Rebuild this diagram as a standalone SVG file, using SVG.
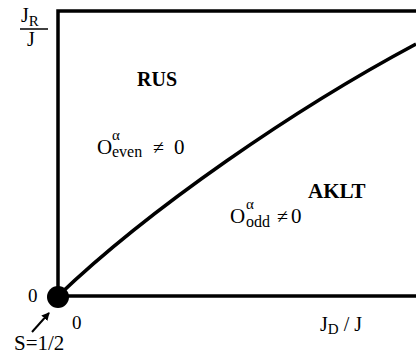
<svg xmlns="http://www.w3.org/2000/svg" width="416" height="358" viewBox="0 0 416 358">
<style>
.t{font-family:"Liberation Serif","Times New Roman",serif;fill:#000}
.b{font-weight:bold}
.ln{stroke:#000;fill:none}
</style>
<defs>
<marker id="ah" markerWidth="8" markerHeight="8" refX="7" refY="4" orient="auto" markerUnits="userSpaceOnUse">
<path d="M0,0 L8,4 L0,8 Z" fill="#000"/>
</marker>
</defs>
<rect width="416" height="358" fill="#fff"/>
<g id="axes">
<path class="ln" d="M58,296 L58,11 L416,11" stroke-width="3.5"/>
<path class="ln" d="M58,296 L416,296" stroke-width="3.5"/>
</g>
<g id="connectors">
<path class="ln" d="M58,296 C150,208 296,108 416,44" stroke-width="3.5"/>
<path class="ln" d="M32,332 L49,313" stroke-width="2" marker-end="url(#ah)"/>
</g>
<g id="origin">
<circle cx="58" cy="297" r="11" fill="#000"/>
</g>
<g id="ylabel">
<text class="t" x="21" y="22" font-size="20">J<tspan font-size="15" dy="4">R</tspan></text>
<line x1="20" y1="29" x2="48" y2="29" stroke="#000" stroke-width="1.5"/>
<text class="t" x="27" y="46" font-size="20">J</text>
</g>
<g id="xlabel">
<text class="t" x="320" y="331" font-size="20">J<tspan font-size="15" dy="3">D</tspan><tspan dy="-3"> / J</tspan></text>
</g>
<g id="rus">
<text class="t b" x="137" y="86" font-size="20">RUS</text>
</g>
<g id="aklt">
<text class="t b" x="308" y="198" font-size="21">AKLT</text>
</g>
<g id="even">
<text class="t" x="97" y="154" font-size="21">O</text>
<text class="t" x="112" y="140" font-size="15">α</text>
<text class="t" x="112" y="157" font-size="16">even</text>
<text class="t" x="153" y="154" font-size="20">≠</text>
<text class="t" x="174" y="154" font-size="21">0</text>
</g>
<g id="odd">
<text class="t" x="230" y="223" font-size="21">O</text>
<text class="t" x="246" y="209" font-size="15">α</text>
<text class="t" x="246" y="227" font-size="16">odd</text>
<text class="t" x="277" y="223" font-size="20">≠</text>
<text class="t" x="291" y="223" font-size="21">0</text>
</g>
<g id="ticks">
<text class="t" x="28" y="302" font-size="19">0</text>
<text class="t" x="72" y="329" font-size="19">0</text>
<text class="t" x="14" y="350" font-size="21">S=1/2</text>
</g>
</svg>
